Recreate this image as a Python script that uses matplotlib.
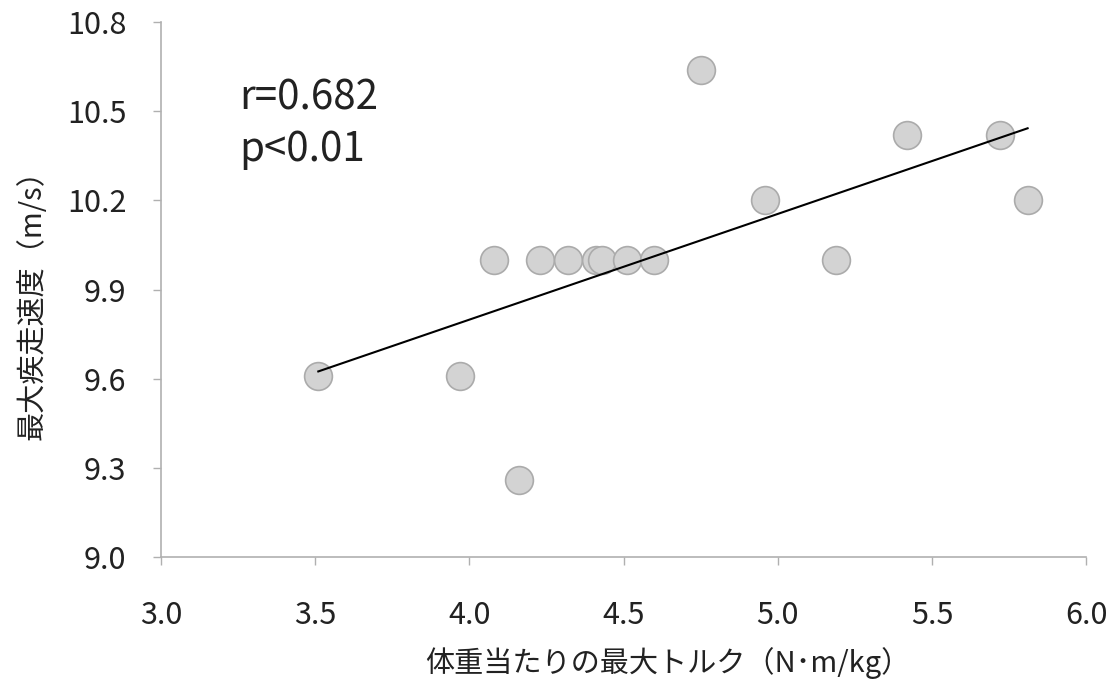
import numpy as np
import matplotlib
matplotlib.use("Agg")
import matplotlib.pyplot as plt

plt.rcParams['font.family'] = ['Noto Sans CJK JP', 'DejaVu Sans']

# torque per body weight (N·m/kg) and max sprint speed (m/s)
torque = [3.51, 3.97, 4.08, 4.16, 4.23, 4.32, 4.41, 4.43, 4.51, 4.60,
          4.75, 4.96, 5.19, 5.42, 5.72, 5.81]
speed = [9.61, 9.61, 10.0, 9.26, 10.0, 10.0, 10.0, 10.0, 10.0, 10.0,
         10.64, 10.20, 10.0, 10.42, 10.42, 10.20]

x_ticks = [3.0, 3.5, 4.0, 4.5, 5.0, 5.5, 6.0]
y_ticks = [9.0, 9.3, 9.6, 9.9, 10.2, 10.5, 10.8]

x_label = "体重当たりの最大トルク（N･m/kg）"
y_label = "最大疾走速度（m/s）"
stats_text = "r=0.682\np<0.01"

fig = plt.figure(figsize=(11.12, 6.84), dpi=100)
ax = fig.add_axes([0.1448, 0.1857, 0.832, 0.7821])

ax.scatter(torque, speed, s=400, color="#d3d3d3", edgecolors="#ababab",
           linewidths=1.2, zorder=2)

# linear fit, drawn across the data range
slope, intercept = np.polyfit(torque, speed, 1)
xs = np.array([min(torque), max(torque)])
ax.plot(xs, slope * xs + intercept, color="black", linewidth=1.5, zorder=3)

ax.set_xlim(3.0, 6.0)
ax.set_ylim(9.0, 10.8)
ax.set_xticks(x_ticks)
ax.set_yticks(y_ticks)
ax.set_xticklabels([f"{v:.1f}" for v in x_ticks])
ax.set_yticklabels([f"{v:.1f}" for v in y_ticks])

for side in ["top", "right"]:
    ax.spines[side].set_visible(False)
for side in ["left", "bottom"]:
    ax.spines[side].set_color("#b0b0b0")
    ax.spines[side].set_linewidth(1.2)

ax.tick_params(axis="both", direction="out", length=6, width=1,
               color="#b0b0b0", labelsize=22, labelcolor="#222222")
ax.tick_params(axis="x", pad=25)
ax.tick_params(axis="y", pad=19)

ax.set_xlabel(x_label, fontsize=21, color="#222222", va="center")
ax.set_ylabel(y_label, fontsize=21, color="#222222", va="center")
ax.xaxis.set_label_coords(0.548, -0.198)
ax.yaxis.set_label_coords(-0.139, 0.484)

ax.text(0.085, 0.81, stats_text, transform=ax.transAxes, fontsize=29,
        color="#222222", va="center", ha="left", linespacing=1.35)

fig.savefig("out.png", dpi=100)
